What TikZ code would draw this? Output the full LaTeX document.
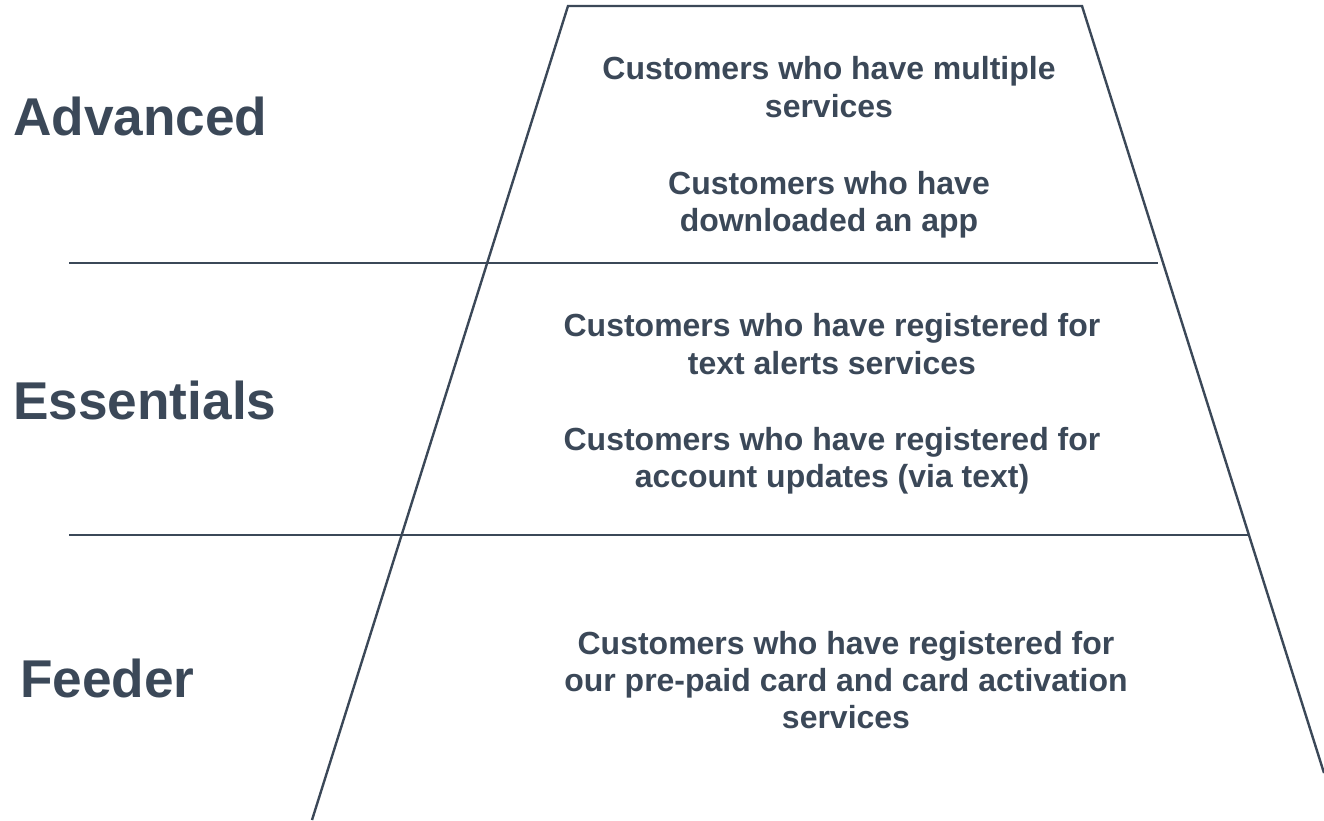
\documentclass[tikz,border=0pt]{standalone}
\usepackage{fontspec}
\setmainfont{Liberation Sans}
\definecolor{ink}{HTML}{3B4858}
\begin{document}
\begin{tikzpicture}[x=1bp,y=-1bp,
  edge/.style={draw=ink,line width=2.4bp},
  tier/.style={anchor=west,inner sep=0,text=ink,font=\fontsize{53.4}{60}\selectfont\bfseries},
  desc/.style={inner sep=0,text=ink,align=center,font=\fontsize{32.1}{37.5}\selectfont\bfseries}]
\useasboundingbox (0,0) rectangle (1324,820);
% funnel outline
\coordinate (tl) at (568,6);
\coordinate (tr) at (1082,6);
\coordinate (bl) at (312,820);
\coordinate (br) at (1324,773);
\draw[edge,line join=miter] (bl) -- (tl) -- (tr) -- (br);
% tier separators
\coordinate (s1a) at (69,263);
\coordinate (s1b) at (1158,263);
\coordinate (s2a) at (69,535);
\coordinate (s2b) at (1248,535);
\draw[edge] (s1a) -- (s1b);
\draw[edge] (s2a) -- (s2b);
% tier names
\node[tier] (adv) at (13,116) {Advanced};
\node[tier] (ess) at (13,400) {Essentials};
\node[tier] (fee) at (20,678) {Feeder};
% descriptions
\node[desc] (d1) at (829,87) {Customers who have multiple\\services};
\node[desc] (d2) at (829,205) {Customers who have\\downloaded an app};
\node[desc] (d3) at (832,344) {Customers who have registered for\\text alerts services};
\node[desc] (d4) at (832,461) {Customers who have registered for\\account updates (via text)};
\node[desc] (d5) at (846,680) {Customers who have registered for\\our pre-paid card and card activation\\services};
\end{tikzpicture}
\end{document}
